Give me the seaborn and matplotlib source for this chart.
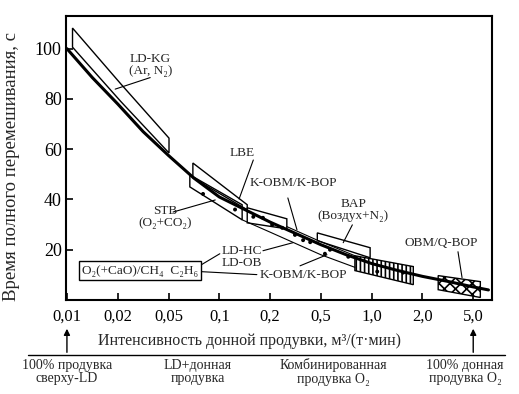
import matplotlib
matplotlib.use("Agg")
import matplotlib.pyplot as plt
import seaborn as sns
from matplotlib.patches import Polygon
from matplotlib.lines import Line2D

# шкала интенсивности донной продувки (деления стоят равномерно)
x_ticks = [0, 1, 2, 3, 4, 5, 6, 7, 8]
x_labels = ['0,01', '0,02', '0,05', '0,1', '0,2', '0,5', '1,0', '2,0', '5,0']
y_ticks = [20, 40, 60, 80, 100]

# основная кривая: время перемешивания, с
curve_x = [0, 0.5, 1, 1.5, 2, 2.5, 3, 3.5, 4, 4.5, 5, 5.5, 6, 6.5, 7, 7.5, 8, 8.3]
curve_y = [100, 88.5, 78, 67, 57.5, 48.5, 41, 36, 31, 26.5, 22, 18, 14.5, 11.8, 9.4, 7.4, 5.2, 4]

# тонкие линии вдоль кривой
upper_x = [4.33, 4.93, 5.67]
upper_y = [29.2, 23.8, 17.6]
lower_x = [3.45, 4.0, 4.5, 5.0, 5.67]
lower_y = [31.9, 27.0, 22.5, 18.0, 13.0]

# экспериментальные точки
pts_x = [2.68, 3.31, 3.67, 3.86, 4.04, 4.24, 4.49, 4.65, 4.79, 5.08, 5.18, 5.54, 6.11, 6.62]
pts_y = [42.2, 36, 33.1, 32.7, 29.9, 28.7, 25.9, 23.8, 23, 18.4, 20, 17.2, 11.3, 10.9]

# области процессов: x, нижняя граница, верхняя граница
ldkg_x, ldkg_lo, ldkg_hi = [0.11, 1.06, 2.01], [100.6, 79, 58.5], [108.2, 86, 64.4]
lbe_x, lbe_lo, lbe_hi = [2.48, 3.55], [48.6, 35.9], [54.5, 37.9]
stb_x, stb_lo, stb_hi = [2.42, 3.45], [45, 31.9], [49.8, 37.9]
kobm_x, kobm_lo, kobm_hi = [3.55, 4.33], [30.7, 28.3], [36.7, 32.3]
bap_x, bap_lo, bap_hi = [4.93, 5.97], [23.6, 16.8], [26.7, 20.8]
ldhc_x, ldhc_lo, ldhc_hi = [5.67, 6.82], [11.7, 6.1], [17.6, 13.3]
obm_x, obm_lo, obm_hi = [7.31, 8.14], [4.1, 1.0], [9.7, 7.3]

sns.set_style("ticks")
plt.rcParams['font.family'] = ['Liberation Serif', 'DejaVu Serif']
plt.rcParams['hatch.linewidth'] = 1.2

fig = plt.figure(figsize=(5.19, 3.94), dpi=100)
ax = fig.add_axes([0.127, 0.2386, 0.821, 0.7208])


def region(x, lo, hi, hatch=None):
    verts = list(zip(x, hi)) + list(zip(x[::-1], lo[::-1]))
    ax.add_patch(Polygon(verts, closed=True, fill=False, edgecolor='black',
                         linewidth=1.0, hatch=hatch, zorder=2))


region(ldkg_x, ldkg_lo, ldkg_hi)
region(lbe_x, lbe_lo, lbe_hi)
region(stb_x, stb_lo, stb_hi)
region(kobm_x, kobm_lo, kobm_hi)
region(bap_x, bap_lo, bap_hi)
region(ldhc_x, ldhc_lo, ldhc_hi, hatch='||||')
region(obm_x, obm_lo, obm_hi, hatch='xxx')

sns.lineplot(x=curve_x, y=curve_y, ax=ax, color='black', linewidth=2.2, zorder=4)
sns.lineplot(x=upper_x, y=upper_y, ax=ax, color='black', linewidth=0.8, zorder=3)
sns.lineplot(x=lower_x, y=lower_y, ax=ax, color='black', linewidth=0.8, zorder=3)
sns.scatterplot(x=pts_x, y=pts_y, ax=ax, color='black', s=8, edgecolor='none', zorder=5)

# подписи и выноски
fs = 9.5
ax.text(1.64, 93.6, 'LD-KG\n(Ar, N₂)', ha='center', va='center', fontsize=fs, linespacing=1.0)
ax.plot([1.64, 0.95], [88.5, 83.9], color='black', lw=0.8)
ax.text(3.45, 58.5, 'LBE', ha='center', va='center', fontsize=fs)
ax.plot([3.67, 3.39], [55.7, 40.2], color='black', lw=0.8)
ax.text(1.93, 32.9, 'STB\n(O₂+CO₂)', ha='center', va='center', fontsize=fs, linespacing=1.0)
ax.plot([2.09, 2.92], [35, 39.8], color='black', lw=0.8)
ax.text(4.45, 46.6, 'K-OBM/K-BOP', ha='center', va='center', fontsize=fs)
ax.plot([4.35, 4.53], [40.6, 27.9], color='black', lw=0.8)
ax.text(5.64, 35.8, 'BAP\n(Воздух+N₂)', ha='center', va='center', fontsize=fs, linespacing=1.0)
ax.plot([5.62, 5.44], [29.9, 22.8], color='black', lw=0.8)
ax.text(7.37, 22.8, 'OBM/Q-BOP', ha='center', va='center', fontsize=fs)
ax.plot([7.7, 7.78], [19.2, 8.9], color='black', lw=0.8)
ax.text(3.45, 17.2, 'LD-HC\nLD-OB', ha='center', va='center', fontsize=fs, linespacing=1.0)
ax.plot([3.86, 4.45], [19.6, 22.8], color='black', lw=0.8)
ax.text(4.65, 10.1, 'K-OBM/K-BOP', ha='center', va='center', fontsize=fs)
ax.plot([4.59, 5.12], [13.6, 18], color='black', lw=0.8)
ax.text(1.44, 11.7, 'O₂(+CaO)/CH₄  C₂H₆', ha='center', va='center', fontsize=fs,
        bbox=dict(boxstyle='square,pad=0.25', fc='white', ec='black', lw=1.0))
ax.plot([2.62, 3.01], [13.7, 18.4], color='black', lw=0.8)
ax.plot([2.62, 3.74], [11.3, 10.1], color='black', lw=0.8)

ax.set_xlim(-0.02, 8.37)
ax.set_ylim(0, 113)
ax.set_xticks(x_ticks)
ax.set_xticklabels(x_labels)
ax.set_yticks(y_ticks)
ax.tick_params(axis='both', direction='in', length=5, width=1.2, colors='black')
ax.tick_params(axis='x', labelsize=12, pad=6)
ax.tick_params(axis='y', labelsize=13, pad=3)
for sp in ax.spines.values():
    sp.set_visible(True)
    sp.set_linewidth(1.5)
    sp.set_color('black')

ax.set_xlabel('Интенсивность донной продувки, м³/(т·мин)', fontsize=11.5)
ax.xaxis.set_label_coords(0.432, -0.116)
ax.set_ylabel('Время полного перемешивания, с', fontsize=13.5)
ax.yaxis.set_label_coords(-0.108, 0.47)

# нижняя шкала режимов продувки
fig.add_artist(Line2D([0.054, 0.973], [0.099, 0.099], color='black', lw=1.0))
for xp in [x_ticks[0], x_ticks[-1]]:
    ax.annotate('', xy=(xp, -0.0915), xycoords=('data', 'axes fraction'),
                xytext=(xp, -0.194), textcoords=('data', 'axes fraction'),
                arrowprops=dict(arrowstyle='-|>', color='black', lw=1.0, mutation_scale=9),
                annotation_clip=False)

mode_labels = ['100% продувка\nсверху-LD', 'LD+донная\nпродувка',
               'Комбинированная\nпродувка O₂', '100% донная\nпродувка O₂']
mode_px = [67, 198, 333, 465]
for lab, px in zip(mode_labels, mode_px):
    fig.text(px / 519, 0.056, lab, ha='center', va='center', fontsize=10, linespacing=1.05)

fig.savefig('out.png', dpi=100)
